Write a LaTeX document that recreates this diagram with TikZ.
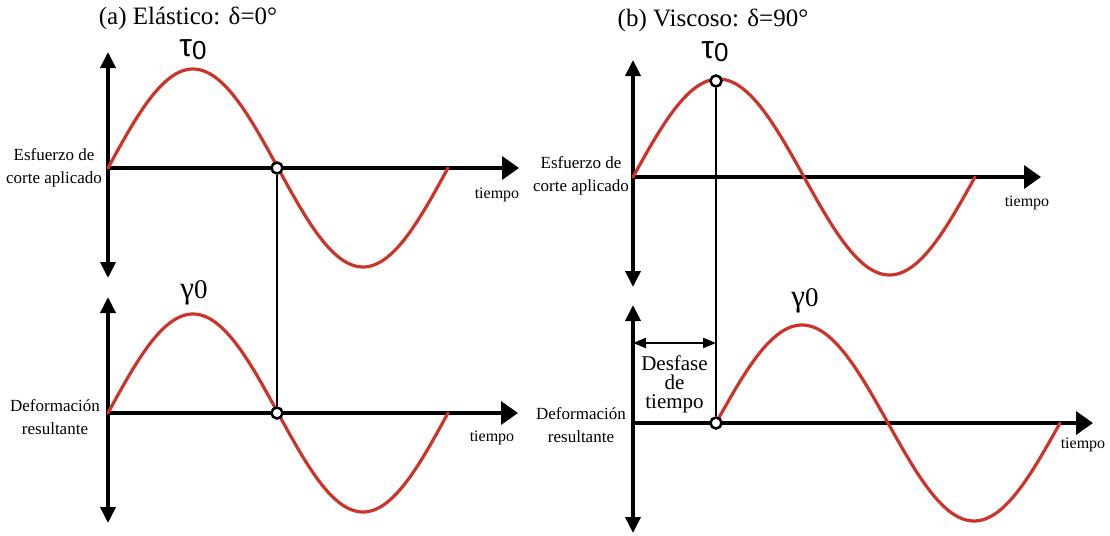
\documentclass[tikz,border=0pt]{standalone}
\usepackage{fontspec}
\setmainfont{Liberation Serif}
\newfontfamily\greeksans{Liberation Sans}
\usetikzlibrary{arrows.meta}
\definecolor{wavered}{RGB}{204,52,42}
\begin{document}
\begin{tikzpicture}[x=1pt,y=-1pt,
  haxis/.style={line width=3.6pt,-{Triangle[length=17pt,width=23pt]}},
  vaxis/.style={line width=3.6pt,{Triangle[length=16pt,width=15pt]}-{Triangle[length=16pt,width=15pt]}},
  wave/.style={draw=wavered,line width=3.2pt,line cap=round},
  marker/.style={circle,draw,fill=white,line width=2.5pt,inner sep=0pt,minimum size=11pt},
  link/.style={line width=2.8pt},
  gap/.style={line width=2.4pt,{Triangle[length=13pt,width=10pt]}-{Triangle[length=13pt,width=10pt]}},
  title/.style={font=\fontsize{25}{28}\selectfont},
  peak/.style={font=\fontsize{24}{26}\selectfont},
  axlabel/.style={font=\fontsize{17}{23}\selectfont,align=center},
  tlabel/.style={font=\fontsize{16}{18}\selectfont},
  desf/.style={font=\fontsize{21}{19}\selectfont,align=center}]
\useasboundingbox (0,0) rectangle (1110,535);
% ---------- panel (a) ----------
\node[title] (ta) at (188,18) {(a) Elástico: δ=0°};
% top
\coordinate (aTo) at (108,168);
\draw[vaxis] (108,52) -- (108,278);
\draw[haxis] (aTo) -- (519,168);
\draw[wave] plot[domain=0:340,samples=120,smooth] ({108+\x},{168-99*sin(\x/340*360)});
\node[peak] (tau1) at (193,50) {{\greeksans\fontsize{32}{32}\selectfont τ}\raisebox{-3pt}{\greeksans\fontsize{26}{26}\selectfont 0}};
\node[axlabel] (ea) at (54,168) {Esfuerzo de\\corte aplicado};
\node[tlabel] (tia) at (497,195) {tiempo};
% bottom
\draw[vaxis] (108,297) -- (108,523);
\draw[haxis] (108,413) -- (518,413);
\draw[wave] plot[domain=0:340,samples=120,smooth] ({108+\x},{413-99*sin(\x/340*360)});
\node[peak] (gam1) at (194,293) {{\fontsize{31}{31}\selectfont γ}{\fontsize{27}{27}\selectfont 0}};
\node[axlabel] (da) at (55,417) {Deformación\\resultante};
\node[tlabel] (tib) at (492,438) {tiempo};
% markers and link
\node[marker] (ca1) at (277,168) {};
\node[marker] (ca2) at (277,413) {};
\draw[link] (ca1) -- (ca2);
% ---------- panel (b) ----------
\node[title] (tb) at (713,20) {(b) Viscoso: δ=90°};
% top
\draw[vaxis] (633,60) -- (633,287);
\draw[haxis] (633,177) -- (1041,177);
\draw[wave] plot[domain=0:342,samples=120,smooth] ({633+\x},{177-98*sin(\x/342*360)});
\node[peak] (tau2) at (715,52) {{\greeksans\fontsize{32}{32}\selectfont τ}\raisebox{-3pt}{\greeksans\fontsize{26}{26}\selectfont 0}};
\node[axlabel] (eb) at (581,176) {Esfuerzo de\\corte aplicado};
\node[tlabel] (tic) at (1027,203) {tiempo};
% bottom
\draw[vaxis] (633,305) -- (633,533);
\draw[haxis] (633,423) -- (1093,423);
\draw[wave] plot[domain=0:344,samples=120,smooth] ({716+\x},{423-98*sin(\x/344*360)});
\node[peak] (gam2) at (805,301) {{\fontsize{31}{31}\selectfont γ}{\fontsize{27}{27}\selectfont 0}};
\node[axlabel] (db) at (581,425) {Deformación\\resultante};
\node[tlabel] (tid) at (1083,445) {tiempo};
% markers, link and phase gap
\node[marker] (cb1) at (716,81) {};
\node[marker] (cb2) at (716,423) {};
\draw[link] (cb1) -- (cb2);
\coordinate (gL) at (633,343);
\coordinate (gR) at (716,343);
\draw[gap] (gL) -- (gR);
\node[desf] (dsf) at (674.5,384) {Desfase\\de\\tiempo};
\end{tikzpicture}
\end{document}
